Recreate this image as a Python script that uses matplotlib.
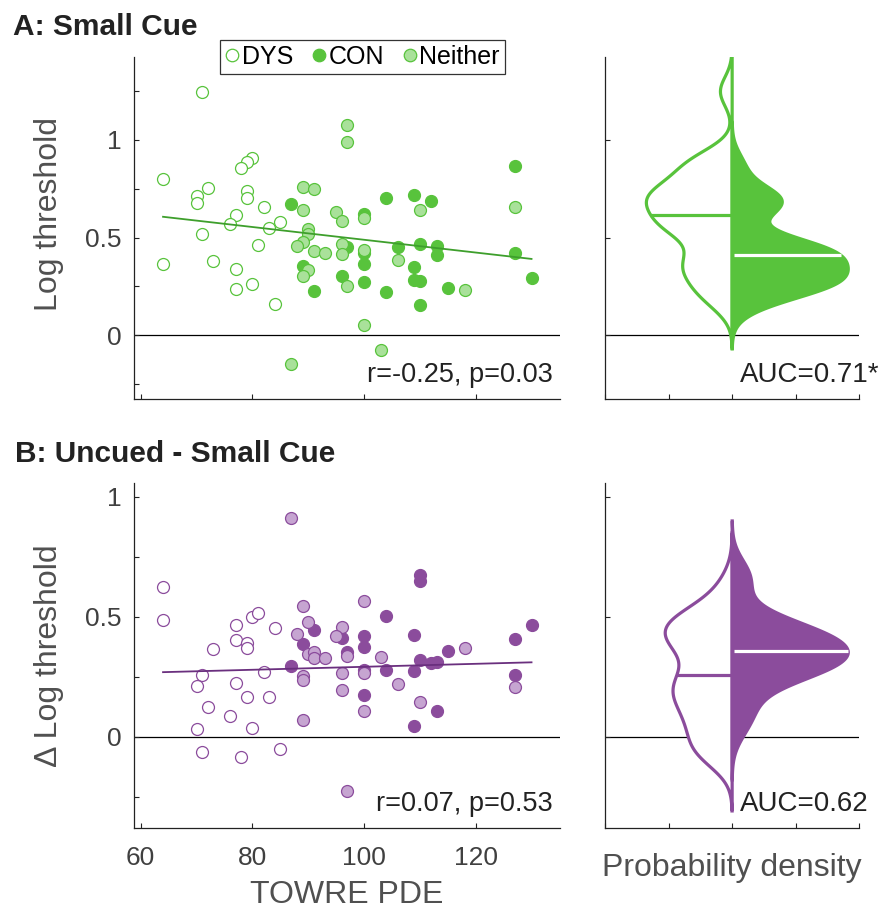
import numpy as np
import matplotlib
matplotlib.use('Agg')
import matplotlib.pyplot as plt
from matplotlib.lines import Line2D

plt.rcParams['font.family'] = ['Liberation Sans', 'DejaVu Sans']

# ---- Panel A: small cue thresholds vs TOWRE PDE ----
a_dys_x = [71, 64, 72, 70, 70, 80, 79, 78, 79, 79, 82, 77, 76, 85, 83, 71, 81, 64, 73, 77, 77, 80, 84]
a_dys_y = [1.248, 0.798, 0.756, 0.715, 0.677, 0.909, 0.889, 0.857, 0.741, 0.701, 0.659, 0.618,
           0.572, 0.580, 0.551, 0.517, 0.462, 0.363, 0.378, 0.341, 0.237, 0.261, 0.158]
a_con_x = [127, 104, 109, 112, 87, 100, 97, 106, 110, 113, 113, 100, 100, 127, 89, 109,
           96, 100, 109, 110, 130, 91, 104, 115, 110]
a_con_y = [0.865, 0.702, 0.720, 0.689, 0.670, 0.622, 0.450, 0.452, 0.467, 0.457, 0.411, 0.420,
           0.365, 0.420, 0.356, 0.351, 0.302, 0.271, 0.283, 0.279, 0.292, 0.228, 0.223, 0.240, 0.155]
a_nei_x = [97, 97, 89, 91, 89, 95, 96, 100, 110, 127, 90, 90, 89, 88, 91, 93, 96, 96, 100,
           106, 90, 89, 97, 118, 100, 103, 87]
a_nei_y = [1.078, 0.988, 0.761, 0.751, 0.641, 0.633, 0.587, 0.599, 0.641, 0.658, 0.542, 0.518,
           0.479, 0.459, 0.433, 0.423, 0.467, 0.416, 0.437, 0.387, 0.334, 0.305, 0.252, 0.232,
           0.053, -0.075, -0.147]
a_fit = (-0.00327, 0.816)  # slope, intercept
a_stats = 'r=-0.25, p=0.03'
a_auc = 'AUC=0.71*'

# ---- Panel B: uncued minus small cue ----
b_dys_x = [64, 64, 77, 77, 79, 79, 80, 81, 84, 73, 71, 70, 82, 77, 79, 83, 72, 76, 70, 80, 71, 78, 85]
b_dys_y = [0.624, 0.486, 0.465, 0.404, 0.393, 0.372, 0.499, 0.516, 0.452, 0.368, 0.259, 0.211,
           0.272, 0.223, 0.168, 0.166, 0.125, 0.087, 0.035, 0.037, -0.061, -0.083, -0.051]
b_con_x = [110, 110, 104, 130, 127, 109, 91, 96, 100, 100, 89, 97, 115, 110, 112, 113, 87,
           100, 104, 109, 127, 100, 113, 109]
b_con_y = [0.674, 0.649, 0.505, 0.467, 0.408, 0.424, 0.447, 0.411, 0.420, 0.375, 0.386, 0.355,
           0.358, 0.322, 0.307, 0.311, 0.295, 0.279, 0.280, 0.275, 0.259, 0.175, 0.107, 0.046]
b_nei_x = [87, 100, 89, 90, 96, 95, 88, 90, 91, 91, 93, 97, 103, 118, 89, 89, 96, 100, 106,
           96, 127, 110, 100, 89, 97]
b_nei_y = [0.913, 0.566, 0.547, 0.477, 0.456, 0.420, 0.430, 0.347, 0.354, 0.327, 0.329, 0.337,
           0.334, 0.372, 0.255, 0.236, 0.265, 0.265, 0.222, 0.196, 0.209, 0.144, 0.108, 0.072,
           -0.223]
b_fit = (0.00062, 0.230)
b_stats = 'r=0.07, p=0.53'
b_auc = 'AUC=0.62'

green, green_lt, green_ln = '#58C33C', '#A9E19A', '#3E9F2C'
purple, purple_lt, purple_ln = '#8B4C9C', '#C6A5D1', '#6A2F7E'
bw = 0.075

W, H = 886, 909
fig = plt.figure(figsize=(W / 100, H / 100), dpi=100)


def style(ax):
    for s in ['top', 'right']:
        ax.spines[s].set_visible(False)
    for s in ['left', 'bottom']:
        ax.spines[s].set_linewidth(0.9)
        ax.spines[s].set_color('#222222')
    ax.tick_params(which='both', direction='in', length=3.5, width=0.8, colors='#222222',
                   labelcolor='#404040', labelsize=19)
    ax.tick_params(axis='x', pad=13)
    ax.tick_params(axis='y', pad=9)


def kde(vals, grid):
    vals = np.asarray(vals)
    z = (grid[:, None] - vals[None, :]) / bw
    return np.exp(-0.5 * z ** 2).sum(1) / (len(vals) * bw * np.sqrt(2 * np.pi))


def scatter_panel(ax, dys, con, nei, fit, c, c_lt, c_ln, ylim, yticks, stats):
    style(ax)
    ms = 8.6
    ax.axhline(0, color='k', lw=0.9, zorder=1)
    ax.plot(dys[0], dys[1], 'o', ms=ms, mfc='white', mec=c, mew=0.9, ls='none', zorder=2)
    ax.plot(con[0], con[1], 'o', ms=ms, mfc=c, mec=c, mew=0.9, ls='none', zorder=3)
    ax.plot(nei[0], nei[1], 'o', ms=ms, mfc=c_lt, mec=c, mew=0.9, ls='none', zorder=4)
    allx = dys[0] + con[0] + nei[0]
    xs = np.array([min(allx), max(allx)])
    ax.plot(xs, fit[0] * xs + fit[1], color=c_ln, lw=1.3, zorder=5)
    ax.set_xlim(58.8, 135.1)
    ax.set_ylim(*ylim)
    ax.set_xticks([60, 80, 100, 120])
    ax.set_yticks([0, 0.5, 1])
    ax.set_yticklabels(['0', '0.5', '1'])
    ax.set_yticks(yticks, minor=True)
    ax.text(0.984, 0.05, stats, transform=ax.transAxes, ha='right', va='baseline',
            fontsize=19.5, color='#222222')


def violin_panel(ax, dys, con, c, ylim, auc):
    style(ax)
    ax.axhline(0, color='k', lw=0.9, zorder=1)
    dmax = 0
    for vals, side in [(dys, -1), (con, 1)]:
        vals = np.asarray(vals)
        grid = np.linspace(vals.min() - 3 * bw, vals.max() + 3 * bw, 300)
        d = kde(vals, grid)
        dmax = max(dmax, d.max())
        xs = np.concatenate([[0], side * d, [0]])
        ys = np.concatenate([[grid[0]], grid, [grid[-1]]])
        med = np.median(vals)
        wmed = np.interp(med, grid, d)
        if side < 0:
            ax.fill(xs, ys, facecolor='white', edgecolor=c, lw=2.3, zorder=2)
            ax.plot([0, -wmed], [med, med], color=c, lw=2.3, zorder=3, solid_capstyle='butt')
        else:
            ax.fill(xs, ys, facecolor=c, edgecolor=c, lw=2.3, zorder=2)
            ax.plot([0.02 * dmax, wmed], [med, med], color='white', lw=2.3, zorder=3,
                    solid_capstyle='butt')
    lim = 1.095 * dmax
    ax.set_xlim(-lim, lim)
    ax.set_xticks(np.linspace(-lim, lim, 5))
    ax.set_xticklabels([])
    ax.set_ylim(*ylim)
    ax.set_yticks([0, 0.5, 1])
    ax.set_yticklabels([])
    ax.text(0.531, 0.05, auc, transform=ax.transAxes, ha='left', va='baseline',
            fontsize=20, color='#222222', clip_on=False)


axA = fig.add_axes([134 / W, 1 - 399.3 / H, 426 / W, 342.3 / H])
axAv = fig.add_axes([605 / W, 1 - 399.3 / H, 254.3 / W, 342.3 / H])
axB = fig.add_axes([134 / W, 1 - 828 / H, 426 / W, 345 / H])
axBv = fig.add_axes([605 / W, 1 - 828 / H, 254.3 / W, 345 / H])

scatter_panel(axA, (a_dys_x, a_dys_y), (a_con_x, a_con_y), (a_nei_x, a_nei_y), a_fit,
              green, green_lt, green_ln, (-0.328, 1.425),
              [-0.25, 0.25, 0.75, 1.25], a_stats)
axA.set_xticklabels([])
violin_panel(axAv, a_dys_y, a_con_y, green, (-0.328, 1.425), a_auc)

scatter_panel(axB, (b_dys_x, b_dys_y), (b_con_x, b_con_y), (b_nei_x, b_nei_y), b_fit,
              purple, purple_lt, purple_ln, (-0.379, 1.057),
              [-0.25, 0.25, 0.75], b_stats)
violin_panel(axBv, b_dys_y, b_con_y, purple, (-0.379, 1.057), b_auc)

axA.set_ylabel('Log threshold', fontsize=23, color='#505050')
axA.yaxis.set_label_coords(-0.165, 0.54)
axB.set_ylabel('\u0394 Log threshold', fontsize=23, color='#505050')
axB.yaxis.set_label_coords(-0.165, 0.5)
axB.set_xlabel('TOWRE PDE', fontsize=23, color='#505050', labelpad=7)
axBv.set_xlabel('Probability density', fontsize=23, color='#505050', labelpad=5)

handles = [
    Line2D([], [], marker='o', ls='none', ms=9, mfc='white', mec=green, mew=0.9),
    Line2D([], [], marker='o', ls='none', ms=9, mfc=green, mec=green, mew=0.9),
    Line2D([], [], marker='o', ls='none', ms=9, mfc=green_lt, mec=green, mew=0.9),
]
leg = axA.legend(handles, ['DYS', 'CON', 'Neither'], loc='center', bbox_to_anchor=(0.536, 1.0),
                 ncol=3, fontsize=18, frameon=True, fancybox=False, handlelength=0.55,
                 handletextpad=0.12, columnspacing=0.75, borderpad=0.2, borderaxespad=0)
leg.get_frame().set_edgecolor('k')
leg.get_frame().set_linewidth(0.9)
leg.set_zorder(10)

fig.text(13 / W, 1 - 35 / H, 'A: Small Cue', fontsize=21.5, fontweight='bold',
         color='#222222', va='baseline')
fig.text(15 / W, 1 - 462 / H, 'B: Uncued - Small Cue', fontsize=21.5, fontweight='bold',
         color='#222222', va='baseline')

fig.savefig('out.png', dpi=100)
